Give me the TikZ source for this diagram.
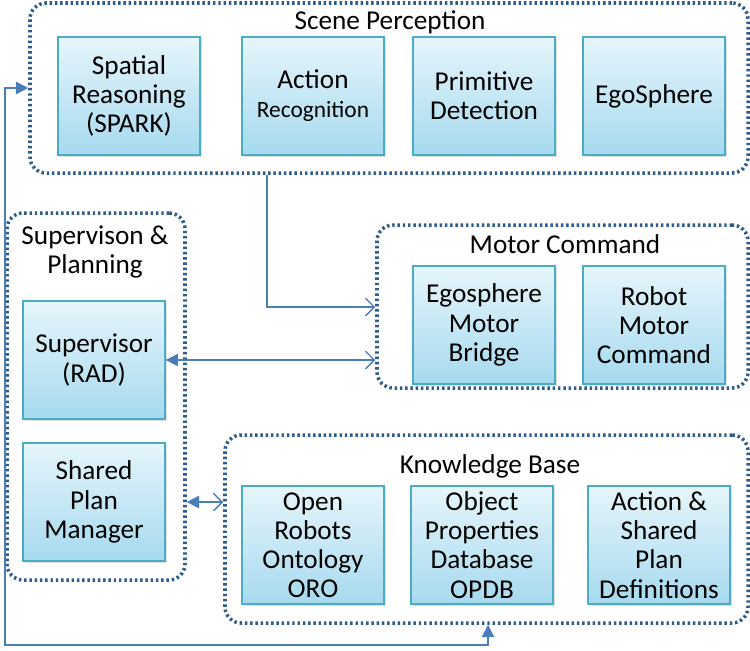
\documentclass[tikz,border=0pt]{standalone}
\usepackage{fontspec}
\setmainfont{Carlito}
\usetikzlibrary{arrows.meta,fit,shadows}
\definecolor{dotblue}{HTML}{2E5C8A}
\definecolor{lineblue}{HTML}{4A7EBB}
\definecolor{boxedge}{HTML}{4BACC6}
\definecolor{boxtop}{HTML}{E6F5FB}
\definecolor{boxbot}{HTML}{A6DAEF}
\tikzset{
  unit/.style={draw=boxedge, line width=0.8pt, top color=boxtop, bottom color=boxbot,
    minimum width=2.84cm, minimum height=2.36cm, align=center, inner sep=1pt,
    drop shadow={opacity=0.25, shadow xshift=1.2pt, shadow yshift=-1.2pt}},
  group/.style={draw=dotblue, line width=2pt, dash pattern=on 1.4pt off 1.6pt,
    rounded corners=0.32cm, inner sep=0pt},
  link/.style={draw=lineblue, line width=0.8pt},
  barb/.tip={Straight Barb[length=5pt,width=10pt,line width=0.8pt]},
  fill tip/.tip={Triangle[length=7pt,width=7pt]}
}
\begin{document}
\begin{tikzpicture}[x=0.02cm, y=-0.02cm, font=\fontsize{15.5}{16.6}\selectfont]
  \useasboundingbox (0,0) rectangle (750,650);
  % groups
  \node[group, fit={(30,3) (748,173)}] (scene) {};
  \node[group, fit={(7,213) (185,580)}] (superv) {};
  \node[group, fit={(377,225) (748,388)}] (motor) {};
  \node[group, fit={(225,435) (748,623)}] (kb) {};
  \node at (390,22) {Scene Perception};
  \node[align=center] at (95,252) {Supervison \&\\Planning};
  \node at (565,244) {Motor Command};
  \node at (490,466) {Knowledge Base};
  % scene perception
  \node[unit] (spark) at (129,96) {Spatial\\Reasoning\\(SPARK)};
  \node[unit] (action) at (313,96) {Action\\{\fontsize{13.3}{16.6}\selectfont Recognition}};
  \node[unit] (prim) at (484,96) {Primitive\\Detection};
  \node[unit] (ego) at (654,96) {EgoSphere};
  % supervision
  \node[unit] (sup) at (94,360) {Supervisor\\(RAD)};
  \node[unit] (plan) at (94,502) {Shared\\Plan\\Manager};
  % motor command
  \node[unit] (bridge) at (484,325) {Egosphere\\Motor\\Bridge};
  \node[unit] (robot) at (654,325) {Robot\\Motor\\Command};
  % knowledge base
  \node[unit] (oro) at (313,545) {Open\\Robots\\Ontology\\ORO};
  \node[unit] (opdb) at (482,545) {Object\\Properties\\Database\\OPDB};
  \node[unit] (defs) at (659,545) {Action \&\\Shared\\Plan\\Definitions};
  % connectors
  \coordinate (s1) at (267,307);
  \coordinate (f0) at (5,645);
  \coordinate (f1) at (488,645);
  \coordinate (f2) at (5,88);
  \draw[link, -barb] (scene.south -| s1) |- (motor.west |- s1);
  \draw[link, fill tip-barb] (sup.east) -- (motor.west |- sup.east);
  \draw[link, fill tip-barb] (superv.east |- plan.east) -- (kb.west |- plan.east);
  \draw[link, fill tip-fill tip] (scene.west |- f2) -- (f2) -- (f0) -- (f1) -- (kb.south -| f1);
\end{tikzpicture}
\end{document}
